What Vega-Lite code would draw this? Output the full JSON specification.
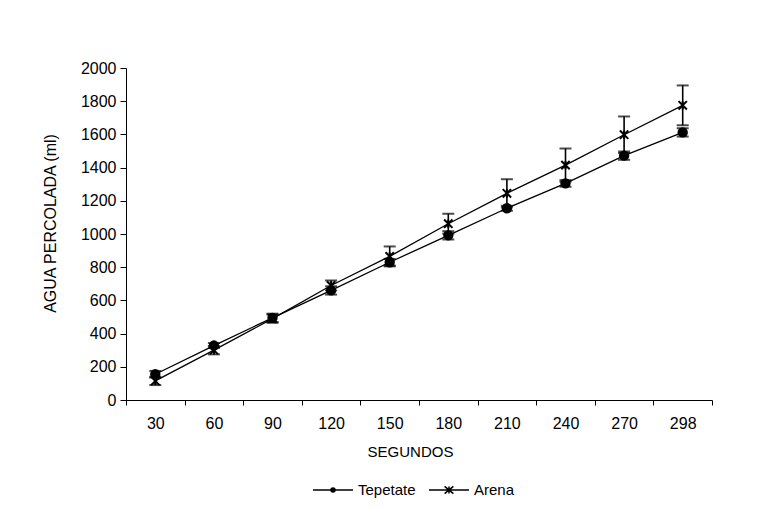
{
  "$schema": "https://vega.github.io/schema/vega-lite/v6.json",
  "width": 586,
  "height": 332,
  "autosize": {"type": "none"},
  "padding": {"left": 126, "top": 68, "right": 61, "bottom": 114},
  "background": "white",
  "config": {
    "view": {"stroke": null},
    "font": "Liberation Sans",
    "axis": {"labelFont": "Liberation Sans", "titleFont": "Liberation Sans", "labelColor": "black", "titleColor": "black", "domainColor": "black", "tickColor": "black", "grid": false, "titleFontWeight": "normal"},
    "legend": {"labelFont": "Liberation Sans", "labelColor": "black"}
  },
  "data": {
    "values": [
      {"seg": 30, "serie": "Tepetate", "agua": 155, "lo": 135, "hi": 175},
      {"seg": 60, "serie": "Tepetate", "agua": 328, "lo": 313, "hi": 343},
      {"seg": 90, "serie": "Tepetate", "agua": 495, "lo": 470, "hi": 520},
      {"seg": 120, "serie": "Tepetate", "agua": 660, "lo": 635, "hi": 685},
      {"seg": 150, "serie": "Tepetate", "agua": 830, "lo": 810, "hi": 850},
      {"seg": 180, "serie": "Tepetate", "agua": 992, "lo": 967, "hi": 1017},
      {"seg": 210, "serie": "Tepetate", "agua": 1155, "lo": 1140, "hi": 1170},
      {"seg": 240, "serie": "Tepetate", "agua": 1305, "lo": 1285, "hi": 1325},
      {"seg": 270, "serie": "Tepetate", "agua": 1472, "lo": 1447, "hi": 1497},
      {"seg": 298, "serie": "Tepetate", "agua": 1612, "lo": 1587, "hi": 1637},
      {"seg": 30, "serie": "Arena", "agua": 115, "lo": 90, "hi": 140},
      {"seg": 60, "serie": "Arena", "agua": 300, "lo": 275, "hi": 325},
      {"seg": 90, "serie": "Arena", "agua": 490, "lo": 465, "hi": 515},
      {"seg": 120, "serie": "Arena", "agua": 690, "lo": 660, "hi": 720},
      {"seg": 150, "serie": "Arena", "agua": 865, "lo": 805, "hi": 925},
      {"seg": 180, "serie": "Arena", "agua": 1062, "lo": 1002, "hi": 1122},
      {"seg": 210, "serie": "Arena", "agua": 1245, "lo": 1160, "hi": 1330},
      {"seg": 240, "serie": "Arena", "agua": 1415, "lo": 1315, "hi": 1515},
      {"seg": 270, "serie": "Arena", "agua": 1598, "lo": 1488, "hi": 1708},
      {"seg": 298, "serie": "Arena", "agua": 1775, "lo": 1655, "hi": 1895}
    ]
  },
  "encoding": {
    "x": {
      "field": "seg", "type": "ordinal",
      "scale": {"type": "band", "paddingInner": 0, "paddingOuter": 0},
      "axis": {
        "title": "SEGUNDOS", "labelAngle": 0, "labelFontSize": 16, "titleFontSize": 15,
        "tickBand": "extent", "tickSize": 5, "labelPadding": 10,
        "titleX": 284, "titleY": 51, "titleBaseline": "middle", "titleAlign": "center"
      }
    },
    "y": {
      "field": "agua", "type": "quantitative",
      "scale": {"domain": [0, 2000], "nice": false},
      "axis": {
        "title": "AGUA PERCOLADA (ml)", "format": "d", "values": [0, 200, 400, 600, 800, 1000, 1200, 1400, 1600, 1800, 2000],
        "labelFontSize": 16, "titleFontSize": 16, "tickSize": 6, "labelPadding": 4,
        "titleAngle": -90, "titleX": -76, "titleY": 155, "titleAlign": "center", "titleBaseline": "middle"
      }
    }
  },
  "layer": [
    {
      "mark": {"type": "line", "color": "black", "strokeWidth": 1.3},
      "encoding": {"detail": {"field": "serie"}}
    },
    {
      "mark": {"type": "errorbar", "color": "black", "ticks": {"size": 12, "thickness": 2}, "rule": {"strokeWidth": 1.6}},
      "encoding": {
        "y": {"field": "lo", "type": "quantitative"},
        "y2": {"field": "hi"},
        "detail": {"field": "serie"}
      }
    },
    {
      "mark": {"type": "point", "filled": true, "fill": "black", "stroke": "black", "strokeWidth": 2, "opacity": 1, "size": 70},
      "encoding": {
        "shape": {
          "field": "serie", "type": "nominal",
          "scale": {"domain": ["Tepetate", "Arena"], "range": ["M-1,0A1,1 0 1,0 1,0A1,1 0 1,0 -1,0Z", "M-1,-1L1,1M-1,1L1,-1M0,-1L0,1"]},
          "legend": null
        }
      }
    },
    {
      "mark": {"type": "point", "filled": false, "color": "black", "strokeWidth": 1.5, "opacity": 0},
      "encoding": {
        "shape": {
          "field": "serie", "type": "nominal",
          "scale": {"domain": ["Tepetate", "Arena"], "range": ["M-1,0L1,0M0.1,0A0.1,0.1 0 1,1 -0.1,0A0.1,0.1 0 1,1 0.1,0ZM0.05,0A0.05,0.05 0 1,1 -0.05,0A0.05,0.05 0 1,1 0.05,0Z", "M-1,0L1,0M-0.22,-0.18L0.22,0.18M-0.22,0.18L0.22,-0.18M0,-0.18L0,0.18"]},
          "legend": {
            "title": null, "orient": "none", "direction": "horizontal", "legendX": 186, "legendY": 401,
            "symbolSize": 1600, "symbolOpacity": 1, "symbolStrokeColor": "black", "symbolStrokeWidth": 1.5,
            "labelFontSize": 15, "labelOffset": 4, "columnPadding": 10
          }
        }
      }
    }
  ],
  "resolve": {"scale": {"shape": "independent"}}
}
